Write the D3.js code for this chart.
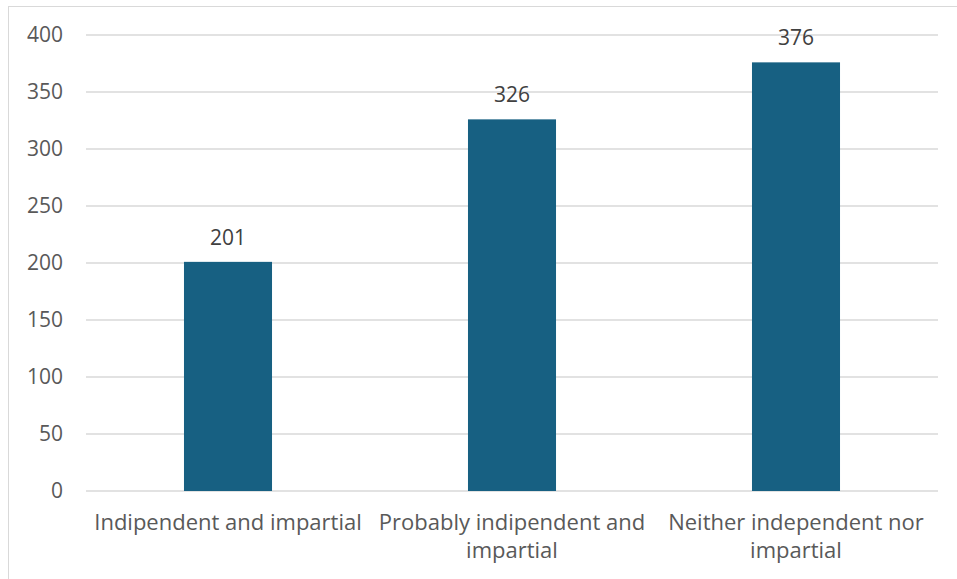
<!DOCTYPE html>
<html><head><meta charset="utf-8">
<script src="https://cdn.jsdelivr.net/npm/d3@7"></script>
<style>body{margin:0;background:#fff}svg{display:block}text{font-family:"Open Sans","Liberation Sans",Arial,sans-serif}</style>
</head><body>
<svg id="c" width="957" height="579"></svg>
<script>
const categories = [["Indipendent and impartial"], ["Probably indipendent and", "impartial"], ["Neither independent nor", "impartial"]];
const values = [201, 326, 376];
const yTicks = [0, 50, 100, 150, 200, 250, 300, 350, 400];

const svg = d3.select("#c");
svg.append("rect").attr("x", 8.5).attr("y", 6.5).attr("width", 960).attr("height", 590)
  .attr("fill", "#fff").attr("stroke", "#d9d9d9");

const x = d3.scaleBand().domain(d3.range(categories.length)).range([86, 938]).padding(0);
const y = d3.scaleLinear().domain([0, 400]).range([491, 35]);
const barW = x.bandwidth() * 0.31;

const g = svg.append("g");
g.selectAll("line.grid").data(yTicks).join("line")
  .attr("x1", 86).attr("x2", 938)
  .attr("y1", d => y(d)).attr("y2", d => y(d))
  .attr("stroke", "#d9d9d9").attr("stroke-width", 1.3);

g.selectAll("text.yt").data(yTicks).join("text")
  .attr("x", 63).attr("y", d => y(d)).attr("dy", "0.35em")
  .attr("text-anchor", "end").attr("font-size", 21).attr("fill", "#595959").text(d => d);

g.selectAll("rect.bar").data(values).join("rect")
  .attr("x", (d, i) => x(i) + x.bandwidth() / 2 - barW / 2)
  .attr("width", barW)
  .attr("y", d => y(d)).attr("height", d => y(0) - y(d))
  .attr("fill", "#176082");

g.selectAll("text.val").data(values).join("text")
  .attr("x", (d, i) => x(i) + x.bandwidth() / 2)
  .attr("y", d => y(d) - 17)
  .attr("text-anchor", "middle").attr("font-size", 21).attr("fill", "#404040").text(d => d);

categories.forEach((lines, i) => {
  const t = g.append("text").attr("text-anchor", "middle").attr("font-size", 22).attr("fill", "#595959");
  lines.forEach((ln, j) => {
    t.append("tspan").attr("x", x(i) + x.bandwidth() / 2).attr("y", 530 + j * 28).text(ln);
  });
});
</script>
</body></html>
